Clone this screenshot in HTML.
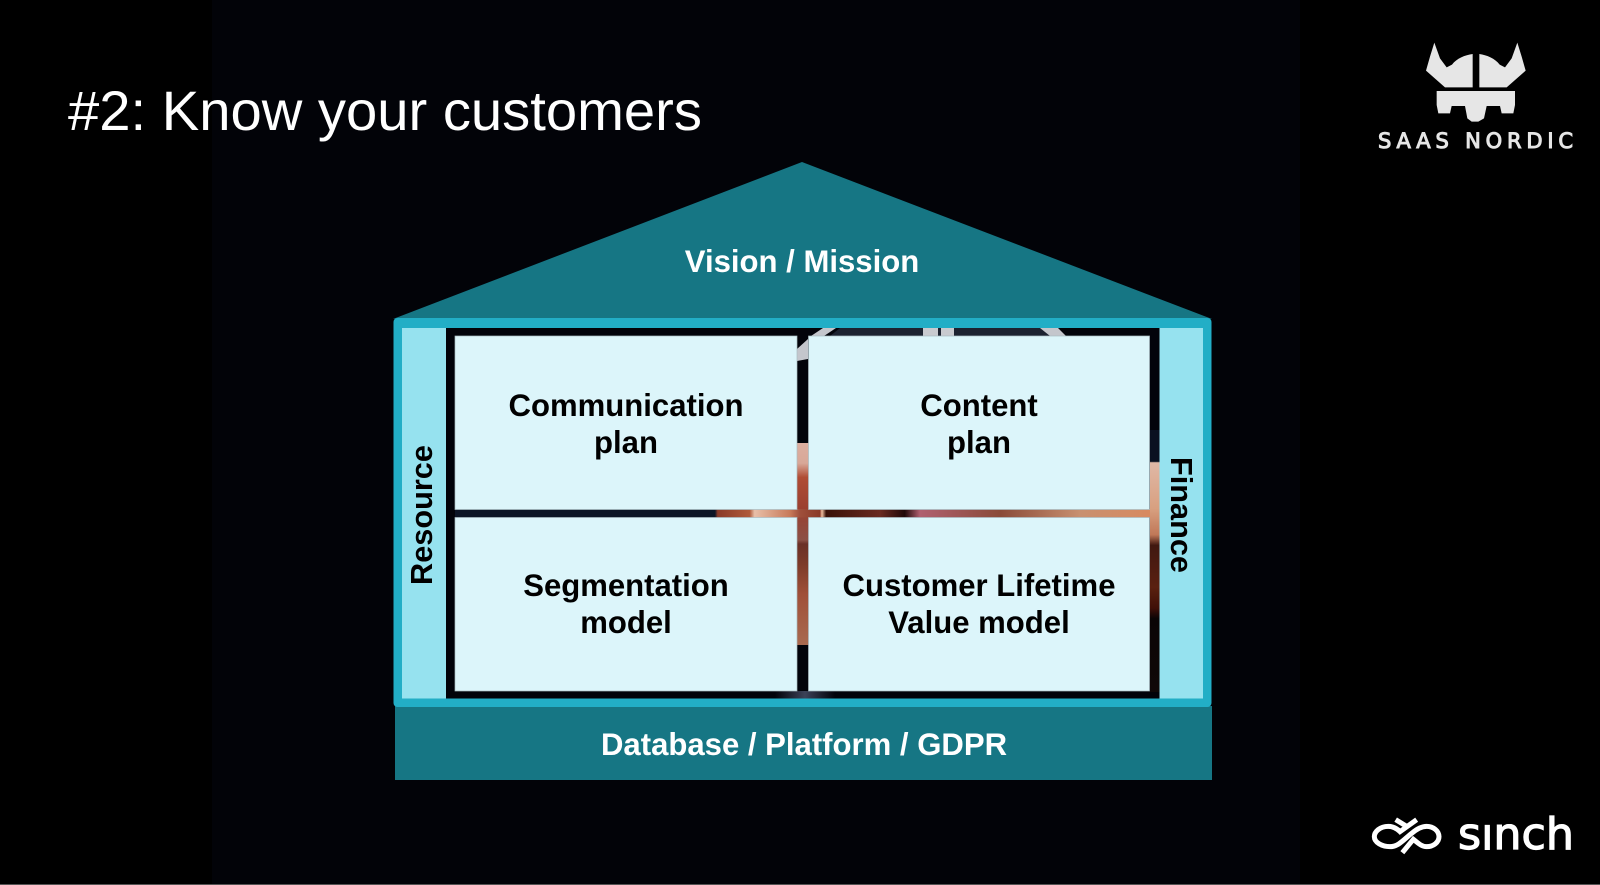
<!DOCTYPE html>
<html><head><meta charset="utf-8"><style>
html,body{margin:0;padding:0;background:#000;width:1600px;height:885px;overflow:hidden}
svg{display:block}
text{font-family:"Liberation Sans",sans-serif}
.l{font-weight:700;font-size:31.1px;fill:#000;text-anchor:middle}
.s{font-weight:700;font-size:30.7px;fill:#000;text-anchor:middle}
.w{font-weight:700;font-size:31.1px;fill:#fff;text-anchor:middle}
</style></head><body>
<svg width="1600" height="885" viewBox="0 0 1600 885" xmlns="http://www.w3.org/2000/svg">
<defs>
<linearGradient id="v" gradientUnits="userSpaceOnUse" x1="0" y1="443" x2="0" y2="645">
<stop offset="0" stop-color="#dcaea0"/><stop offset=".1" stop-color="#d8a898"/><stop offset=".17" stop-color="#b04c34"/><stop offset=".33" stop-color="#9a4030"/><stop offset=".48" stop-color="#8c5045"/><stop offset=".5" stop-color="#6a3026"/><stop offset=".6" stop-color="#7c3a28"/><stop offset=".75" stop-color="#a05038"/><stop offset="1" stop-color="#a86a50"/>
</linearGradient>
<linearGradient id="h" gradientUnits="userSpaceOnUse" x1="455" y1="0" x2="1150" y2="0">
<stop offset="0" stop-color="#0c1526"/><stop offset=".374" stop-color="#0c1526"/><stop offset=".378" stop-color="#8a3a28"/><stop offset=".424" stop-color="#b05a3a"/><stop offset=".431" stop-color="#e8bfa8"/><stop offset=".482" stop-color="#c87a5a"/><stop offset=".496" stop-color="#a0503c"/><stop offset=".525" stop-color="#8a3a28"/><stop offset=".528" stop-color="#f0c0a0"/><stop offset=".534" stop-color="#3a1208"/><stop offset=".612" stop-color="#6a2a20"/><stop offset=".647" stop-color="#200808"/><stop offset=".669" stop-color="#b06070"/><stop offset=".784" stop-color="#8a4a38"/><stop offset=".899" stop-color="#c89070"/><stop offset="1" stop-color="#d88a60"/>
</linearGradient>
<linearGradient id="r" gradientUnits="userSpaceOnUse" x1="0" y1="430" x2="0" y2="692">
<stop offset="0" stop-color="#0a1020"/><stop offset=".12" stop-color="#0a1020"/><stop offset=".125" stop-color="#e0b8a6"/><stop offset=".3" stop-color="#d8a080"/><stop offset=".4" stop-color="#c07858"/><stop offset=".44" stop-color="#401810"/><stop offset=".6" stop-color="#5a2010"/><stop offset=".68" stop-color="#401008"/><stop offset=".72" stop-color="#0a0505"/><stop offset="1" stop-color="#100808"/>
</linearGradient>
<linearGradient id="b" x1="0" y1="0" x2="1" y2="0">
<stop offset="0" stop-color="#02030a"/><stop offset=".5" stop-color="#3c4258"/><stop offset="1" stop-color="#02030a"/>
</linearGradient>
</defs>
<rect width="1600" height="885" fill="#000"/>
<rect x="212" y="0" width="1088" height="884" fill="#020308"/>
<rect x="0" y="884" width="1600" height="1" fill="#555"/>

<text x="68" y="130" font-size="56" fill="#fff" textLength="634" lengthAdjust="spacingAndGlyphs">#2: Know your customers</text>

<!-- roof -->
<polygon points="802,162 1212,319 393,319" fill="#167684"/>
<text class="w" x="802" y="272">Vision / Mission</text>

<!-- base -->
<rect x="395" y="706" width="817" height="74" fill="#167684"/>
<text class="w" x="804" y="755">Database / Platform / GDPR</text>

<!-- frame -->
<rect x="393.500" y="318" width="818" height="389" rx="4" fill="#22aec6"/>
<rect x="402" y="328" width="801" height="370.500" fill="#02030a"/>
<rect x="402" y="328" width="44" height="370.500" fill="#96e2ef"/>
<rect x="1159.500" y="328" width="43.500" height="370.500" fill="#96e2ef"/>

<!-- image slivers -->
<rect x="797" y="443" width="11.500" height="202" fill="url(#v)"/>
<rect x="775" y="691" width="60" height="7.500" fill="url(#b)"/>
<rect x="455" y="509" width="695" height="8.500" fill="url(#h)"/>
<rect x="1150" y="430" width="9.500" height="262" fill="url(#r)"/>
<polygon points="797,349 808,339 808,359 797,361" fill="#c4c6cc"/>
<polygon points="811,336 823,328 836,328 824,336" fill="#c4c6cc"/>
<polygon points="830,336 840,328 1040,328 1050,336" fill="#1c2230"/>
<rect x="923" y="328" width="15" height="8" fill="#c8cacf"/>
<rect x="941" y="328" width="13" height="8" fill="#c8cacf"/>
<polygon points="1040,328 1058,328 1066,336 1050,336" fill="#c4c6cc"/>

<!-- cards -->
<g fill="#dcf5fa" stroke="#a9bcc2" stroke-width=".7">
<rect x="455" y="336" width="342" height="173.500"/>
<rect x="808.500" y="336" width="341" height="173.500"/>
<rect x="455" y="517.500" width="342" height="173.500"/>
<rect x="808.500" y="517.500" width="341" height="173.500"/>
</g>
<text class="l" x="626" y="416">Communication</text>
<text class="l" x="626" y="453">plan</text>
<text class="l" x="979" y="416">Content</text>
<text class="l" x="979" y="453">plan</text>
<text class="l" x="626" y="596">Segmentation</text>
<text class="l" x="626" y="633">model</text>
<text class="l" x="979" y="596">Customer Lifetime</text>
<text class="l" x="979" y="633">Value model</text>
<text class="s" transform="translate(432,515) rotate(-90)">Resource</text>
<text class="s" transform="translate(1171,515) rotate(90)">Finance</text>

<!-- Saas Nordic logo -->
<g transform="translate(1330,30) scale(.33333)" fill="#e6e6e6">
<path d="M313 38 L330 85 L350 112 L366 104 C380 85 405 75 428 72 L428 172 L345 172 L288 122 L300 80Z"/>
<path d="M562 38 L545 85 L525 112 L509 104 C495 85 470 75 448 72 L448 172 L530 172 L587 122 L575 80Z"/>
<polygon points="320,183 555,183 555,225 550,250 515,250 510,228 470,228 462,265 445,275 425,275 412,265 405,228 365,228 360,250 325,250 320,225"/>
</g>
<text x="1378" y="148" font-size="21" fill="#e6e6e6" stroke="#e6e6e6" stroke-width="1" style="font-family:'DejaVu Sans',sans-serif" textLength="195">SAAS NORDIC</text>

<!-- Sinch logo -->
<g transform="translate(1365,805) scale(.33333)" fill="none" stroke="#fff" stroke-width="15">
<path d="M92 44 L125 64"/>
<path d="M155 44 L105 80 C95 70 85 64 70 64 C45 64 28 80 28 95 C28 112 50 125 75 125 C100 125 115 105 140 85 C155 72 170 64 185 64 C205 64 222 78 222 95 C222 112 205 125 185 125 C170 125 160 115 145 103 L112 143"/>
</g>
<text x="1458" y="849" font-size="44" fill="#fff" stroke="#fff" stroke-width="1.2" style="font-family:'DejaVu Sans',sans-serif" textLength="116" lengthAdjust="spacingAndGlyphs">sinch</text>
<rect x="1458" y="805" width="72" height="19" fill="#000"/>
</svg>
</body></html>
